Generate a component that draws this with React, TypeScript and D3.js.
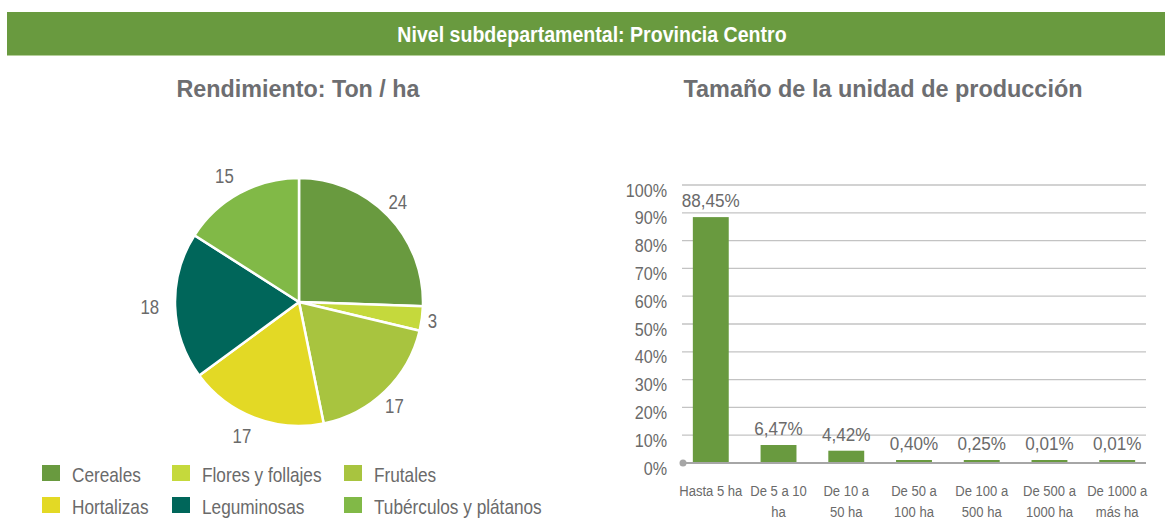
import React, { useEffect, useRef } from 'react';
import * as d3 from 'd3';

// Pie: rendimiento (ton / ha)
const cultivos = ['Cereales', 'Flores y follajes', 'Frutales', 'Hortalizas', 'Leguminosas', 'Tubérculos y plátanos'];
const rendimiento = [24, 3, 17, 17, 18, 15];
const pieColors = ['#699a3f', '#c5d93c', '#a8c43f', '#e3d925', '#00665a', '#81b947'];

// Bars: tamaño de la unidad de producción
const rangos = ['Hasta 5 ha', 'De 5 a 10 ha', 'De 10 a 50 ha', 'De 50 a 100 ha', 'De 100 a 500 ha', 'De 500 a 1000 ha', 'De 1000 a más ha'];
const rangoLines = [['Hasta 5 ha'], ['De 5 a 10', 'ha'], ['De 10 a', '50 ha'], ['De 50 a', '100 ha'], ['De 100 a', '500 ha'], ['De 500 a', '1000 ha'], ['De 1000 a', 'más ha']];
const porcentajes = [88.45, 6.47, 4.42, 0.40, 0.25, 0.01, 0.01];
const yTicks = [0, 10, 20, 30, 40, 50, 60, 70, 80, 90, 100];

const FONT = '"Liberation Sans", Arial, sans-serif';
const GRAY = '#6a6a6a';

// narrow-looking text: no condensed font available, so squeeze horizontally
function narrowText(parent: any, x: number, y: number, text: string, size: number, sx: number, anchor = 'start') {
  return parent.append('text')
    .attr('transform', `translate(${x},${y}) scale(${sx},1)`)
    .attr('text-anchor', anchor)
    .attr('fill', GRAY)
    .style('font-family', FONT)
    .style('font-size', `${size}px`)
    .text(text);
}

export default function App() {
  const svgRef = useRef<SVGSVGElement>(null);

  useEffect(() => {
    const width = 1165;
    const height = 519;
    const svg = d3.select(svgRef.current);
    svg.selectAll('*').remove();
    svg.attr('width', width).attr('height', height);

    // header band
    svg.append('rect')
      .attr('x', 7).attr('y', 12).attr('width', width - 7).attr('height', 43)
      .attr('fill', '#699a3f');
    svg.append('line')
      .attr('x1', 7).attr('x2', width).attr('y1', 55.5).attr('y2', 55.5)
      .attr('stroke', '#b5cf9a').attr('stroke-width', 1);
    svg.append('text')
      .attr('transform', 'translate(592,42) scale(0.89,1)')
      .attr('text-anchor', 'middle')
      .attr('fill', '#fff')
      .style('font-family', FONT)
      .style('font-weight', 'bold')
      .style('font-size', '22px')
      .text('Nivel subdepartamental: Provincia Centro');

    // subtitles
    const subtitles = [
      { x: 298, len: 243, text: 'Rendimiento: Ton / ha' },
      { x: 883, len: 399, text: 'Tamaño de la unidad de producción' }
    ];
    subtitles.forEach(s => {
      svg.append('text')
        .attr('x', s.x).attr('y', 97)
        .attr('text-anchor', 'middle')
        .attr('fill', '#6d6e71')
        .attr('textLength', s.len)
        .attr('lengthAdjust', 'spacingAndGlyphs')
        .style('font-family', FONT)
        .style('font-weight', 'bold')
        .style('font-size', '23px')
        .text(s.text);
    });

    // ---- pie
    const cx = 299;
    const cy = 302;
    const r = 124;
    const pieG = svg.append('g').attr('transform', `translate(${cx},${cy})`);
    const arcs = d3.pie<number>().sort(null).value(d => d)(rendimiento);
    const arc = d3.arc<d3.PieArcDatum<number>>().innerRadius(0).outerRadius(r);

    pieG.selectAll('path')
      .data(arcs)
      .join('path')
      .attr('d', arc)
      .attr('fill', (_, i) => pieColors[i])
      .attr('stroke', '#fff')
      .attr('stroke-width', 2.5);

    const labelR = r + 20;
    arcs.forEach(d => {
      const a = (d.startAngle + d.endAngle) / 2;
      const x = labelR * Math.sin(a);
      const y = -labelR * Math.cos(a);
      const anchor = x > 0 ? 'start' : 'end';
      narrowText(pieG, x > 0 ? x - 14 : x + 4, y + 7, String(d.data), 21, 0.8, anchor);
    });

    // legend
    const legCols = [42, 172, 344];
    const legRows = [473, 505];
    cultivos.forEach((c, i) => {
      const lx = legCols[i % 3];
      const ly = legRows[Math.floor(i / 3)];
      svg.append('rect')
        .attr('x', lx).attr('y', ly - 8).attr('width', 18).attr('height', 16)
        .attr('fill', pieColors[i]);
      narrowText(svg, lx + 30, ly + 9, c, 21, 0.82);
    });

    // ---- bars
    const x0 = 682;
    const x1 = 1146;
    const xScale = d3.scaleBand<string>()
      .domain(rangos)
      .range([x0, x1])
      .paddingInner(0.47)
      .paddingOuter(0.16);
    const yScale = d3.scaleLinear().domain([0, 100]).range([463, 185]);

    const grid = svg.append('g');
    yTicks.filter(t => t > 0).forEach(t => {
      grid.append('line')
        .attr('x1', x0).attr('x2', x1)
        .attr('y1', yScale(t)).attr('y2', yScale(t))
        .attr('stroke', '#c3c3c3').attr('stroke-width', 1.3);
    });
    yTicks.forEach(t => {
      narrowText(svg, 667, yScale(t) + 11.5, `${t}%`, 19, 0.85, 'end');
    });

    const barH = (d: number) => Math.max(yScale(0) - yScale(d), 3);

    svg.selectAll('rect.bar')
      .data(porcentajes)
      .join('rect')
      .attr('class', 'bar')
      .attr('x', (_, i) => xScale(rangos[i])!)
      .attr('width', xScale.bandwidth())
      .attr('y', d => yScale(0) - barH(d))
      .attr('height', d => barH(d))
      .attr('fill', '#699a3f');

    porcentajes.forEach((d, i) => {
      narrowText(svg, xScale(rangos[i])! + xScale.bandwidth() / 2, yScale(0) - barH(d) - 10,
        d.toFixed(2).replace('.', ',') + '%', 19, 0.9, 'middle');
    });

    // baseline axis
    svg.append('line')
      .attr('x1', x0).attr('x2', x1)
      .attr('y1', yScale(0)).attr('y2', yScale(0))
      .attr('stroke', '#a6a6a6').attr('stroke-width', 2.2);
    svg.append('circle')
      .attr('cx', x0 + 1).attr('cy', yScale(0)).attr('r', 3.5)
      .attr('fill', '#a6a6a6');

    rangoLines.forEach((lines, i) => {
      const g = svg.append('g')
        .attr('transform', `translate(${xScale(rangos[i])! + xScale.bandwidth() / 2},496) scale(0.9,1)`);
      const t = g.append('text')
        .attr('text-anchor', 'middle')
        .attr('fill', GRAY)
        .style('font-family', FONT)
        .style('font-size', '14.5px');
      lines.forEach((ln, j) => {
        t.append('tspan')
          .attr('x', 0)
          .attr('y', j * 21)
          .text(ln);
      });
    });
  }, []);

  return (
    <div>
      <svg ref={svgRef} style={{ position: 'absolute', left: 0, top: 0, display: 'block' }}></svg>
    </div>
  );
}
